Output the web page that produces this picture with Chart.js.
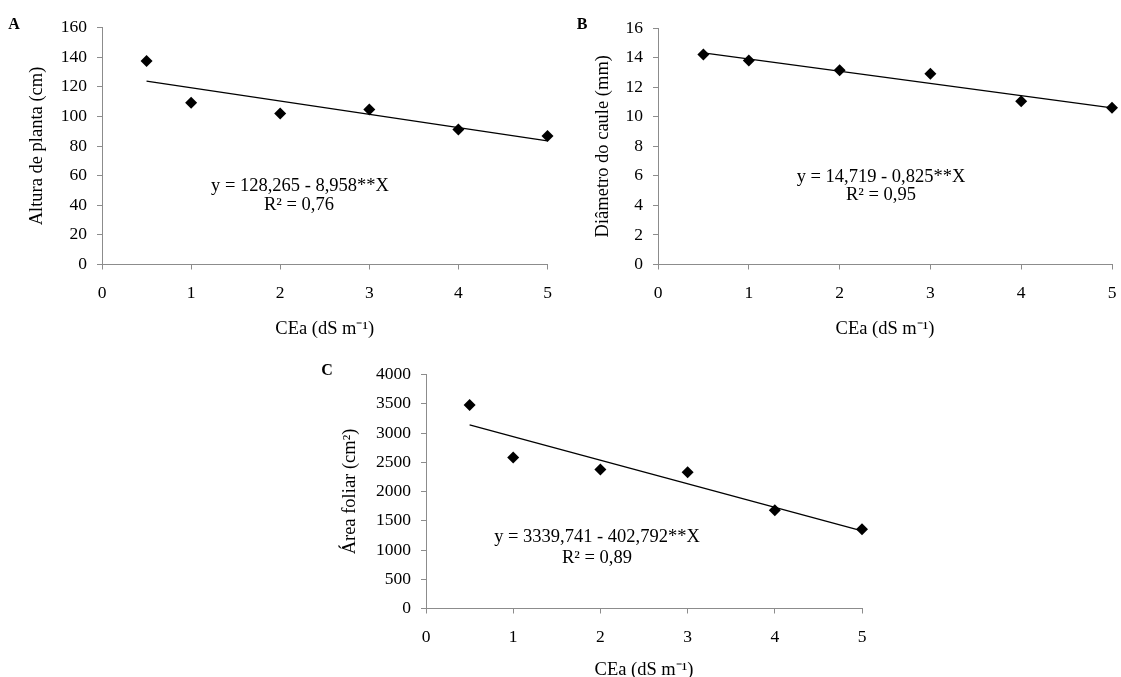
<!DOCTYPE html>
<html>
<head>
<meta charset="utf-8">
<script src="https://cdn.jsdelivr.net/npm/chart.js@4/dist/chart.umd.min.js"></script>
<style>
    body { margin: 0; background: #fff; width: 1121px; height: 677px; position: relative; overflow: hidden; }
    canvas { position: absolute; }
</style>
</head>
<body>
<canvas id="graficoA" width="560" height="340" style="left:0;top:0"></canvas>
<canvas id="graficoB" width="561" height="340" style="left:560px;top:0"></canvas>
<canvas id="graficoC" width="590" height="397" style="left:300px;top:280px"></canvas>
<script>
/*global Chart*/

// Niveles de salinidad (CEa) y valores medidos
const nivelesCEa = [0.5, 1, 2, 3, 4, 5];
const alturaPlanta = [137.3, 109.2, 102.0, 104.6, 91.2, 86.8];
const diametroCaule = [14.2, 13.8, 13.15, 12.9, 11.05, 10.6];
const areaFoliar = [3480, 2580, 2375, 2330, 1680, 1356];

// Extremos de las rectas de regresión
const tendenciaX = [0.5, 5];
const tendenciaAltura = [123.8, 83.5];
const tendenciaDiametro = [14.31, 10.59];
const tendenciaArea = [3138.3, 1325.8];

// Etiquetas de ejes
const ticksX = [0, 1, 2, 3, 4, 5];
const tituloX = "CEa (dS m\u207B\u00B9)";

const fuente = '"Liberation Serif", "Times New Roman", serif';
const grisEje = "#8c8c8c";

Chart.defaults.font.family = fuente;
Chart.defaults.color = "#000";

// Plugin para la letra del panel y la ecuación
const textosPanel = {
    id: "textosPanel",
    afterDraw(chart, args, opts) {
        const ctx = chart.ctx;
        ctx.save();
        ctx.fillStyle = "#000";
        ctx.textAlign = "center";
        ctx.textBaseline = "middle";
        ctx.font = "bold 16px " + fuente;
        ctx.fillText(opts.letra, opts.letraX, opts.letraY);
        ctx.font = "18.5px " + fuente;
        opts.lineas.forEach(l => ctx.fillText(l.texto, l.x, l.y));
        ctx.restore();
    }
};

function crearGrafico(id, cfg) {
    const puntos = nivelesCEa.map((x, i) => ({ x: x, y: cfg.valores[i] }));
    const recta = tendenciaX.map((x, i) => ({ x: x, y: cfg.tendencia[i] }));

    return new Chart(document.getElementById(id), {
        type: "scatter",
        data: {
            datasets: [
                {
                    data: puntos,
                    pointStyle: "rectRot",
                    pointRadius: 6,
                    backgroundColor: "#000",
                    borderColor: "#000",
                    borderWidth: 0,
                    showLine: false,
                    clip: false,
                },
                {
                    data: recta,
                    showLine: true,
                    pointRadius: 0,
                    borderColor: "#000",
                    borderWidth: 1.3,
                    clip: false,
                },
            ],
        },
        options: {
            responsive: false,
            animation: false,
            layout: { padding: { left: 0, top: cfg.padTop, right: cfg.padRight, bottom: 0 } },
            plugins: {
                legend: { display: false },
                tooltip: { enabled: false },
                textosPanel: cfg.textos,
            },
            scales: {
                x: {
                    type: "linear",
                    min: 0,
                    max: 5,
                    afterFit: s => {
                        s.height = cfg.altoX;
                        s.paddingLeft = 0;
                        s.paddingRight = 0;
                    },
                    afterBuildTicks: s => { s.ticks = ticksX.map(v => ({ value: v })); },
                    grid: { drawOnChartArea: false, drawTicks: true, tickLength: 5, color: grisEje },
                    border: { color: grisEje, width: 1 },
                    ticks: { font: { size: 17.5 }, padding: 13, maxRotation: 0 },
                    title: { display: true, text: tituloX, font: { size: 18.5 }, padding: { top: 0, bottom: cfg.padTituloX } },
                },
                y: {
                    min: 0,
                    max: cfg.maxY,
                    afterFit: s => { s.width = cfg.anchoY; },
                    grid: { drawOnChartArea: false, drawTicks: true, tickLength: 5, color: grisEje },
                    border: { color: grisEje, width: 1 },
                    ticks: { stepSize: cfg.pasoY, font: { size: 17.5 }, padding: 10, callback: v => String(v) },
                    title: { display: true, text: cfg.tituloY, font: { size: 18.5 }, padding: { top: cfg.padTituloY, bottom: 0 } },
                },
            },
        },
        plugins: [textosPanel],
    });
}

crearGrafico("graficoA", {
    valores: alturaPlanta,
    tendencia: tendenciaAltura,
    maxY: 160,
    pasoY: 20,
    tituloY: "Altura de planta (cm)",
    anchoY: 102,
    altoX: 75.5,
    padTop: 27.5,
    padRight: 12.5,
    padTituloX: 0,
    padTituloY: 26,
    textos: {
        letra: "A", letraX: 14, letraY: 25,
        lineas: [
            { texto: "y = 128,265 - 8,958**X", x: 300, y: 186 },
            { texto: "R\u00B2 = 0,76", x: 299, y: 205 },
        ],
    },
});

crearGrafico("graficoB", {
    valores: diametroCaule,
    tendencia: tendenciaDiametro,
    maxY: 16,
    pasoY: 2,
    tituloY: "Di\u00E2metro do caule (mm)",
    anchoY: 98,
    altoX: 75.5,
    padTop: 28,
    padRight: 9,
    padTituloX: 0,
    padTituloY: 32,
    textos: {
        letra: "B", letraX: 22, letraY: 25,
        lineas: [
            { texto: "y = 14,719 - 0,825**X", x: 321, y: 177 },
            { texto: "R\u00B2 = 0,95", x: 321, y: 195 },
        ],
    },
});

crearGrafico("graficoC", {
    valores: areaFoliar,
    tendencia: tendenciaArea,
    maxY: 4000,
    pasoY: 500,
    tituloY: "\u00C1rea foliar (cm\u00B2)",
    anchoY: 126,
    altoX: 68.5,
    padTop: 94.5,
    padRight: 28,
    padTituloX: -4,
    padTituloY: 39,
    textos: {
        letra: "C", letraX: 27, letraY: 91,
        lineas: [
            { texto: "y = 3339,741 - 402,792**X", x: 297, y: 257 },
            { texto: "R\u00B2 = 0,89", x: 297, y: 278 },
        ],
    },
});
</script>
</body>
</html>
